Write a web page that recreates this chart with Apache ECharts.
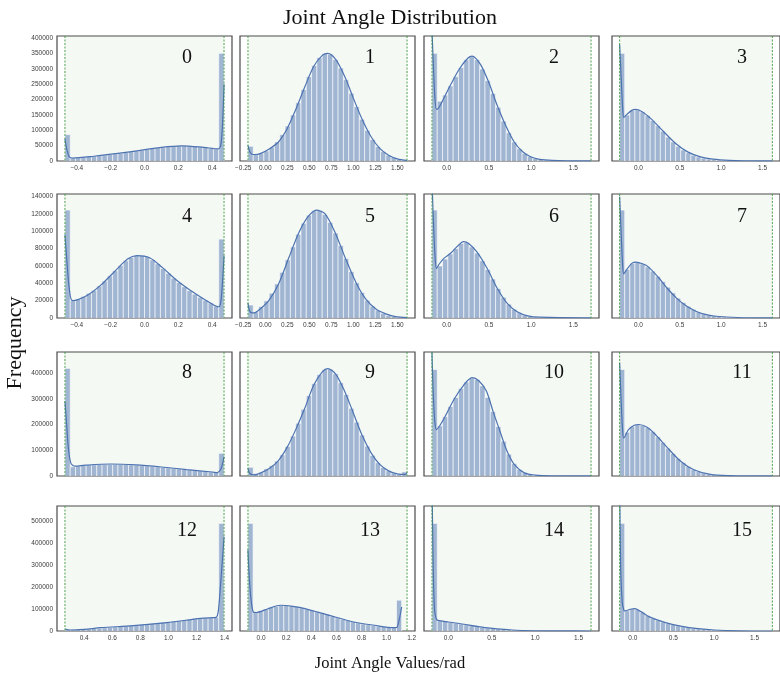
<!DOCTYPE html>
<html><head><meta charset="utf-8">
<script src="https://cdn.jsdelivr.net/npm/echarts@6/dist/echarts.min.js"></script>
<style>html,body{margin:0;padding:0;background:#fff}#c{width:780px;height:683px}</style>
</head><body><div id="c"></div>
<script>
// Joint limits (green dashed lines)
const jointLo = [-0.47, -0.196, -0.174, -0.227, -0.47, -0.196, -0.174, -0.227, -0.47, -0.196, -0.174, -0.227, 0.263, -0.105, -0.189, -0.162];
const jointHi = [0.47, 1.61, 1.709, 1.618, 0.47, 1.61, 1.709, 1.618, 0.47, 1.61, 1.709, 1.618, 1.396, 1.163, 1.644, 1.719];
// Histogram data range per joint
const binLo = [-0.47, -0.196, -0.174, -0.227, -0.47, -0.196, -0.174, -0.227, -0.47, -0.196, -0.174, -0.227, 0.263, -0.105, -0.189, -0.162];
const binHi = [0.47, 1.61, 1.709, 1.618, 0.47, 1.61, 1.709, 1.618, 0.47, 1.61, 1.709, 1.618, 1.396, 1.12, 1.644, 1.719];

// Histogram counts (30 bins each)
const counts0 = [86000,9000,11000,13000,14500,16000,17500,19500,21500,23500,25500,28000,30500,33000,35500,38000,40500,43000,45000,47000,48500,49500,49500,49000,47500,46000,44000,42000,40000,351000];
const counts1 = [48000,20000,26000,33000,45000,62000,86000,114000,150000,190000,233000,275000,311000,337000,350000,348000,331000,303000,265000,221000,177000,136000,100000,70000,47000,30500,19000,11300,6400,3500];
const counts2 = [351000,195000,215000,245000,275000,305000,330000,340000,330000,300000,262000,220000,175000,130000,92000,62000,40000,25000,15000,9000,5500,3500,2200,1500,1000,700,500,400,300,300];
const counts3 = [351000,150000,165000,167000,160000,148000,132000,115000,97000,78000,62000,48000,36000,27000,19000,13500,9500,6500,4500,3200,2300,1600,1200,900,700,500,400,300,300,200];
const counts4 = [124500,20000,22000,25000,28500,32000,37000,42500,48500,54500,60500,66000,70000,72000,72000,70500,67000,62500,57000,51500,46000,41000,36000,31500,27500,24000,20500,17500,14000,91000];
const counts5 = [15000,7000,13200,19800,28600,39300,52700,67100,82000,96600,109300,118600,123700,124000,119400,110200,98000,83500,68500,53600,40600,29500,20500,13700,8800,5500,3200,1850,1000,500];
const counts6 = [124500,60000,68000,74000,80000,86000,87000,82000,75000,66000,56000,45000,34000,24000,16000,10000,6000,3500,2000,1200,700,400,300,200,150,100,100,100,100,100];
const counts7 = [124500,56000,63000,64500,62500,59000,54000,48000,42000,35500,29000,23000,18000,13500,10000,7000,5000,3500,2500,1700,1200,800,600,400,300,250,200,150,100,100];
const counts8 = [418000,36000,39000,41000,42500,43500,44500,45000,45500,45500,45000,44500,43500,42500,41000,39500,38000,36000,34000,32000,30000,28000,26000,24000,22000,20000,18000,16000,14000,88000];
const counts9 = [34000,10000,15000,28000,40000,58000,82000,115000,155000,205000,259000,312000,359000,394000,414000,415000,397000,362000,316000,263000,209000,159000,116000,80000,52000,33000,20000,11500,6300,16000];
const counts10 = [413500,195000,230000,270000,305000,340000,365000,380000,375000,350000,305000,250000,192000,135000,85000,48000,25000,12500,6000,3000,1500,900,600,400,300,200,150,100,100,100];
const counts11 = [413500,170000,192000,200000,197000,188000,172000,152000,130000,108000,87000,68000,52000,37000,25000,18000,12500,8000,5000,3200,2200,1500,1000,700,500,400,300,200,200,100];
const counts12 = [7000,5000,6000,7500,9000,11000,13000,15000,17000,19000,21000,23000,25000,27000,29500,32000,34500,37000,39500,42000,44500,47000,50000,53000,56000,58000,60000,61000,61000,489000];
const counts13 = [489000,85000,92000,100000,107000,112000,116000,117000,115000,111000,106000,100000,94000,88000,82000,76000,66000,60000,54000,48000,42000,37000,32000,28500,25500,22500,20000,17500,15500,140000];
const counts14 = [489000,47000,44000,40000,36000,32000,28000,24000,20500,17000,14000,11500,9000,7000,5500,4200,3200,2400,1800,1300,1000,700,500,400,300,200,150,100,100,100];
const counts15 = [489000,92000,100000,98000,85000,70000,58000,49000,41000,35000,29000,24000,19500,15500,12500,10000,8000,6000,4500,3400,2500,1800,1300,900,600,400,300,200,100,100];

// KDE curves [x, density-scaled count]
const kde0 = [[-0.47,72000],[-0.46,40000],[-0.445,14000],[-0.425,9500],[-0.3,15500],[-0.1,29000],[0.1,44500],[0.22,49500],[0.35,44500],[0.435,39500],[0.45,50000],[0.46,110000],[0.47,250000]];
const kde1 = [[-0.196,51000],[-0.175,30000],[-0.15,22000],[-0.115,21000],[-0.05,25000],[0.05,40000],[0.15,62000],[0.25,106000],[0.35,170000],[0.45,242000],[0.55,308000],[0.65,345000],[0.71,351000],[0.8,331000],[0.9,277000],[1.0,205000],[1.1,136000],[1.2,80000],[1.3,41000],[1.4,19000],[1.5,7000],[1.61,2000]];
const kde2 = [[-0.174,430000],[-0.16,330000],[-0.14,210000],[-0.12,168000],[-0.09,175000],[-0.02,212000],[0.05,250000],[0.15,300000],[0.25,335000],[0.3,342000],[0.4,315000],[0.5,255000],[0.6,180000],[0.7,115000],[0.8,62000],[0.9,30000],[1.0,13000],[1.1,5500],[1.25,2000],[1.45,700],[1.709,200]];
const kde3 = [[-0.227,380000],[-0.21,280000],[-0.19,170000],[-0.176,142000],[-0.14,152000],[-0.08,165000],[-0.03,168000],[0.05,160000],[0.15,138000],[0.3,97000],[0.45,57000],[0.6,29000],[0.75,13500],[0.9,6000],[1.1,2000],[1.3,800],[1.618,200]];
const kde4 = [[-0.47,96000],[-0.46,70000],[-0.445,35000],[-0.425,20000],[-0.34,26000],[-0.26,37600],[-0.18,53000],[-0.1,68000],[-0.045,72000],[0.03,69500],[0.11,57500],[0.19,43500],[0.27,32000],[0.35,22000],[0.425,13500],[0.44,13000],[0.452,20000],[0.462,45000],[0.47,72000]];
const kde5 = [[-0.196,17500],[-0.18,9000],[-0.15,5800],[-0.12,6000],[-0.05,11000],[0.04,20000],[0.15,39000],[0.27,70000],[0.38,98000],[0.48,116000],[0.58,124500],[0.68,120000],[0.8,97000],[0.91,69000],[1.03,41000],[1.14,22000],[1.26,10000],[1.37,4800],[1.48,1500],[1.61,400]];
const kde6 = [[-0.174,160000],[-0.16,120000],[-0.14,75000],[-0.12,57000],[-0.09,62000],[-0.03,69000],[0.05,75000],[0.13,83000],[0.2,88000],[0.26,86000],[0.36,76000],[0.48,57000],[0.6,34000],[0.72,16500],[0.84,6800],[0.96,2500],[1.1,900],[1.709,100]];
const kde7 = [[-0.227,140000],[-0.21,100000],[-0.19,60000],[-0.177,51000],[-0.14,56000],[-0.08,63000],[-0.03,64500],[0.05,62500],[0.12,59000],[0.24,47000],[0.35,34000],[0.47,22000],[0.58,13700],[0.7,7500],[0.82,3800],[0.94,2000],[1.2,600],[1.618,100]];
const kde8 = [[-0.47,290000],[-0.46,200000],[-0.45,110000],[-0.435,50000],[-0.41,38000],[-0.35,42000],[-0.2,46500],[-0.05,43000],[0.1,35000],[0.25,25000],[0.4,15500],[0.43,13000],[0.45,25000],[0.462,50000],[0.47,75000]];
const kde9 = [[-0.196,30000],[-0.18,12000],[-0.15,5000],[-0.12,4500],[-0.05,12000],[0.05,30000],[0.15,60000],[0.25,112000],[0.35,183000],[0.45,264000],[0.55,352000],[0.65,405000],[0.71,417000],[0.8,396000],[0.9,330000],[1.0,245000],[1.1,158000],[1.2,91000],[1.3,45000],[1.4,20000],[1.5,8000],[1.595,6000],[1.61,14000]];
const kde10 = [[-0.174,480000],[-0.16,330000],[-0.14,210000],[-0.12,180000],[-0.08,196000],[-0.03,224000],[0.09,299000],[0.2,352000],[0.3,382000],[0.38,370000],[0.47,330000],[0.55,250000],[0.63,175000],[0.71,100000],[0.8,45000],[0.92,12000],[1.05,3500],[1.25,800],[1.709,100]];
const kde11 = [[-0.227,440000],[-0.21,300000],[-0.19,170000],[-0.177,147500],[-0.12,180000],[-0.05,197000],[0.006,200000],[0.1,190000],[0.19,166000],[0.35,110000],[0.51,57000],[0.67,24000],[0.87,6000],[1.1,1500],[1.618,200]];
const kde12 = [[0.263,9000],[0.3,4500],[0.4,7500],[0.52,15000],[0.75,24000],[0.99,38000],[1.23,57500],[1.32,61000],[1.34,62000],[1.355,90000],[1.37,200000],[1.385,330000],[1.396,429000]];
const kde13 = [[-0.105,368000],[-0.095,250000],[-0.08,140000],[-0.06,85000],[-0.04,84000],[0.05,100000],[0.156,117000],[0.25,112000],[0.349,102000],[0.543,71000],[0.737,41000],[0.903,26000],[1.055,15000],[1.08,16000],[1.1,50000],[1.12,109000]];
const kde14 = [[-0.189,700000],[-0.175,300000],[-0.16,100000],[-0.14,55000],[-0.12,48600],[0.0,41000],[0.139,33000],[0.42,15000],[0.74,4500],[1.0,1200],[1.3,300],[1.644,50]];
const kde15 = [[-0.162,700000],[-0.15,300000],[-0.13,130000],[-0.11,95000],[-0.096,91000],[-0.03,99000],[0.024,102000],[0.1,88000],[0.204,64000],[0.404,38000],[0.604,21000],[0.804,10600],[1.004,4500],[1.3,1000],[1.719,100]];

// Row y-axis maxima and tick labels
const rowMax = [407500, 143000, 481500, 568000];
const yTicks0 = [0,50000,100000,150000,200000,250000,300000,350000,400000];
const yTicks1 = [0,20000,40000,60000,80000,100000,120000,140000];
const yTicks2 = [0,100000,200000,300000,400000];
const yTicks3 = [0,100000,200000,300000,400000,500000];
// x tick labels
const xTicksA = [-0.4,-0.2,0,0.2,0.4];
const xTicksB = [-0.25,0,0.25,0.5,0.75,1,1.25,1.5];
const xTicksC = [0,0.5,1,1.5];
const xTicks12 = [0.4,0.6,0.8,1.0,1.2,1.4];
const xTicks13 = [0,0.2,0.4,0.6,0.8,1.0,1.2];

const panelNames = ['0','1','2','3','4','5','6','7','8','9','10','11','12','13','14','15'];

const counts = [counts0,counts1,counts2,counts3,counts4,counts5,counts6,counts7,counts8,counts9,counts10,counts11,counts12,counts13,counts14,counts15];
const kdes = [kde0,kde1,kde2,kde3,kde4,kde5,kde6,kde7,kde8,kde9,kde10,kde11,kde12,kde13,kde14,kde15];
const yTicks = [yTicks0,yTicks1,yTicks2,yTicks3];

// layout
const colLeft = [57, 240, 424, 612];
const rowTop = [36, 194, 352, 506];
const rowH = [125, 124, 124, 125];
const panelW = 175;
const numDy = [22, 23, 21, 25];

const chart = echarts.init(document.getElementById('c'), null, {renderer:'canvas'});
const grids=[], xAxes=[], yAxes=[], series=[], graphics=[];
const lblFont = 'Liberation Sans, Arial, sans-serif';
const serif = 'Liberation Serif, Times New Roman, serif';

function fmt(d){ return v => (v < -1e-9 ? '\u2212' : '') + Math.abs(v).toFixed(d); }

for (let i=0;i<16;i++){
  const r = Math.floor(i/4), c = i%4;
  grids.push({left:colLeft[c], top:rowTop[r], width:panelW, height:rowH[r], show:true,
    borderColor:'#4a4a4a', borderWidth:1.2, backgroundColor:'#ffffff', containLabel:false});
  const lo = jointLo[i], hi = jointHi[i], m = 0.05*(hi-lo);
  let ticks, dec;
  if (i===12){ticks=xTicks12;dec=1;}
  else if (i===13){ticks=xTicks13;dec=1;}
  else if (c===0){ticks=xTicksA;dec=1;}
  else if (c===1){ticks=xTicksB;dec=2;}
  else {ticks=xTicksC;dec=1;}
  xAxes.push({type:'value', gridIndex:i, min:lo-m, max:hi+m,
    axisLine:{show:false}, axisTick:{show:false}, splitLine:{show:false},
    axisLabel:{show: r!==2, customValues:ticks, formatter:fmt(dec), fontSize:6.5, color:'#3a3a3a', fontFamily:lblFont, margin:4, hideOverlap:false}});
  yAxes.push({type:'value', gridIndex:i, min:0, max:rowMax[r],
    axisLine:{show:false}, axisTick:{show:false}, splitLine:{show:false},
    axisLabel:{show: c===0, customValues:yTicks[r], formatter: v=>String(v), fontSize:6.5, color:'#3a3a3a', fontFamily:lblFont, margin:4}});
  // green shaded span between joint limits
  series.push({type:'custom', xAxisIndex:i, yAxisIndex:i, z:1, silent:true, clip:true,
    data:[[lo,hi]], encode:{x:[0,1]},
    renderItem:(p,api)=>{
      const cs = p.coordSys;
      const a = api.coord([api.value(0),0]), b = api.coord([api.value(1),0]);
      return {type:'rect', shape:{x:a[0], y:cs.y, width:b[0]-a[0], height:cs.height},
        style:{fill:'rgba(60,150,60,0.055)'}};
    }});
  // histogram bars
  const w = (binHi[i]-binLo[i])/counts[i].length;
  series.push({type:'custom', xAxisIndex:i, yAxisIndex:i, z:2, silent:true, clip:true,
    data: counts[i].map((v,k)=>[binLo[i]+k*w, binLo[i]+(k+1)*w, v]), encode:{x:[0,1], y:2},
    renderItem:(p,api)=>{
      const a = api.coord([api.value(0),0]), b = api.coord([api.value(1),api.value(2)]);
      return {type:'rect', shape:{x:a[0], y:b[1], width:b[0]-a[0], height:a[1]-b[1]},
        style:{fill:'rgba(76,114,176,0.5)', stroke:'#ffffff', lineWidth:0.6}};
    }});
  // KDE line
  series.push({type:'line', xAxisIndex:i, yAxisIndex:i, z:3, data:kdes[i], showSymbol:false, silent:true,
    smooth:0.3, clip:true, lineStyle:{color:'#4c72b0', width:1.2}});
  // dashed limit lines
  series.push({type:'custom', xAxisIndex:i, yAxisIndex:i, z:4, silent:true, clip:true,
    data:[[lo],[hi]], encode:{x:0},
    renderItem:(p,api)=>{
      const cs = p.coordSys;
      const a = api.coord([api.value(0),0]);
      return {type:'line', shape:{x1:a[0], y1:cs.y, x2:a[0], y2:cs.y+cs.height},
        style:{stroke:'#3a9a3a', lineWidth:0.9, lineDash:[2,1.5]}};
    }});
  graphics.push({type:'text', x:colLeft[c]+130, y:rowTop[r]+numDy[r], z:10,
    style:{text:panelNames[i], font:'20px '+serif, fill:'#111', textAlign:'center', textVerticalAlign:'middle'}});
}

graphics.push({type:'text', x:390, y:18, style:{text:'Joint Angle Distribution', font:'22px '+serif, fill:'#111', textAlign:'center', textVerticalAlign:'middle'}});
graphics.push({type:'text', x:390, y:664, style:{text:'Joint Angle Values/rad', font:'16.5px '+serif, fill:'#111', textAlign:'center', textVerticalAlign:'middle'}});
graphics.push({type:'text', x:15, y:343, rotation:Math.PI/2, style:{text:'Frequency', font:'22px '+serif, fill:'#111', textAlign:'center', textVerticalAlign:'middle'}});

chart.setOption({animation:false, backgroundColor:'#ffffff', grid:grids, xAxis:xAxes, yAxis:yAxes, series:series, graphic:graphics});
</script></body></html>
